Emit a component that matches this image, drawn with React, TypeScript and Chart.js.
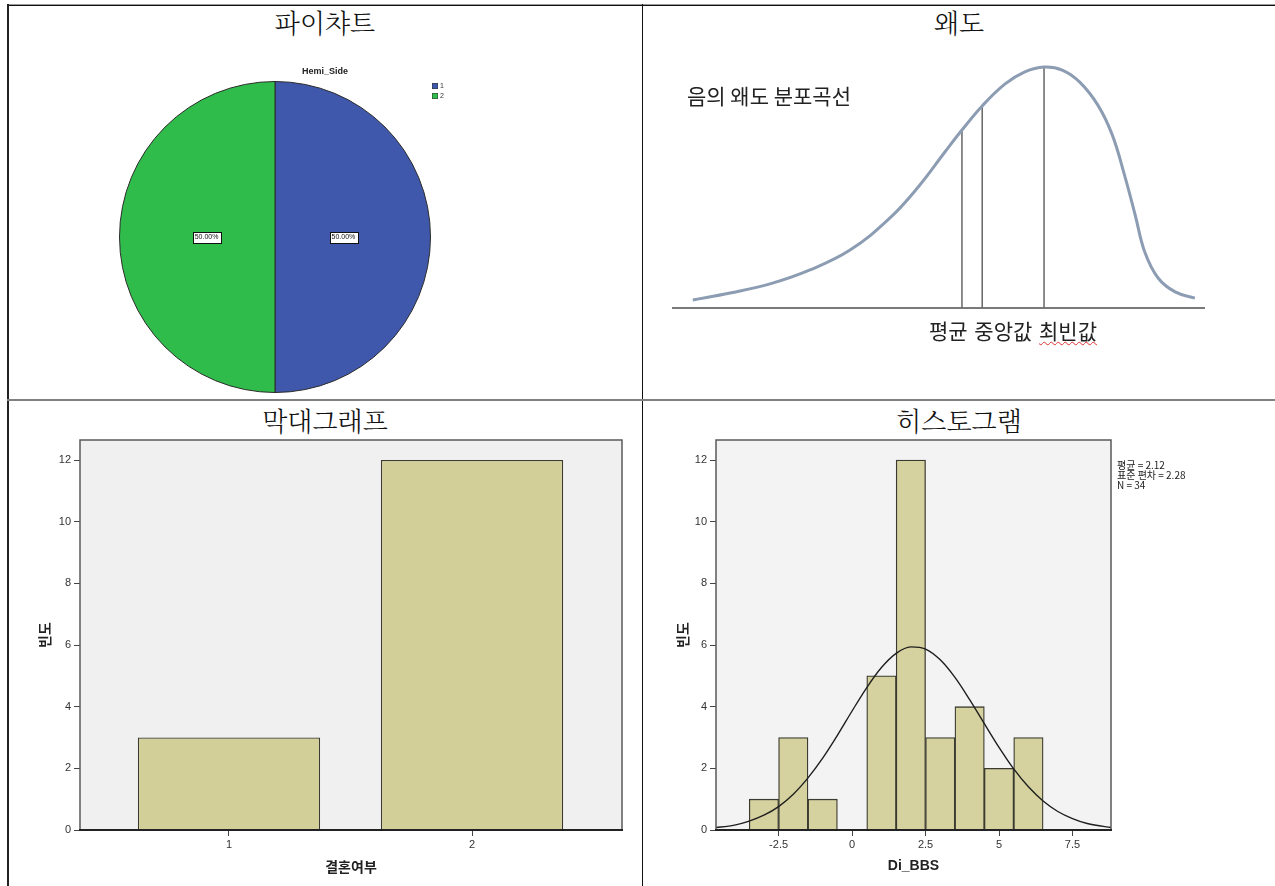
import React, { useEffect, useRef } from 'react';
import { Chart, registerables } from 'chart.js';

Chart.register(...registerables);

// ---------- pie chart ----------
const PIE_TITLE = 'Hemi_Side';
const PIE_LABELS = ['1', '2'];
const PIE_VALUES = [17, 17];
const PIE_COLORS = ['#3f58ab', '#30bc4b'];

// ---------- negatively skewed curve (abstract units 0..100) ----------
const SKEW_X = [3.9, 10.9, 18.4, 25.9, 33.4, 40.9, 46.5, 51.2, 54.4, 58.2, 62.5, 66.2, 69.8, 73.2, 76.5, 79.9, 82.6, 84.9, 86.9, 88.7, 91.2, 94.4, 98.1];
const SKEW_Y = [3.0, 5.6, 9.0, 14.2, 21.6, 33.6, 45.9, 58.2, 66.4, 75.4, 83.6, 88.1, 89.9, 88.8, 84.3, 75.7, 64.6, 49.6, 34.7, 20.9, 11.2, 6.0, 3.7];
// positions of mean, median and mode on the curve
const SKEW_MARKER_X = [54.4, 58.2, 69.8];
const SKEW_BASELINE = [0, 100];

// ---------- bar chart ----------
const BAR_CATEGORIES = [1, 2];
const BAR_COUNTS = [3, 12];
const BAR_Y_TICKS = [0, 2, 4, 6, 8, 10, 12];

// ---------- histogram ----------
const HIST_BIN_CENTERS = [-3, -2, -1, 0, 1, 2, 3, 4, 5, 6];
const HIST_COUNTS = [1, 3, 1, 0, 5, 12, 3, 4, 2, 3];
const HIST_X_TICKS = [-2.5, 0, 2.5, 5, 7.5];
const HIST_Y_TICKS = [0, 2, 4, 6, 8, 10, 12];
const HIST_MEAN = 2.12;
const HIST_SD = 2.28;
const HIST_N = 34;
// fitted normal curve (frequency scale)
const NORMAL_X = [-4.7, -4, -3.5, -3, -2.5, -2, -1.5, -1, -0.5, 0, 0.5, 1, 1.5, 2, 2.5, 3, 3.5, 4, 4.5, 5, 5.5, 6, 6.5, 7, 7.5, 8, 8.9];
const NORMAL_Y = [0.07, 0.16, 0.29, 0.48, 0.76, 1.16, 1.69, 2.33, 3.07, 3.86, 4.62, 5.27, 5.73, 5.94, 5.87, 5.52, 4.95, 4.23, 3.45, 2.68, 1.98, 1.4, 0.94, 0.6, 0.37, 0.21, 0.07];

const TICK_FONT = { family: '"Liberation Sans", Arial, sans-serif', size: 11 };
const AXIS_TITLE_FONT = { family: '"Noto Sans CJK KR", sans-serif', size: 14, weight: 'bold' as const };

// plot background + frame, bottom edge drawn heavier like an axis line
const plotFrame = (bg: string) => ({
  id: 'plotFrame',
  beforeDraw(chart: any) {
    const { ctx, chartArea: a } = chart;
    ctx.save();
    ctx.fillStyle = bg;
    ctx.fillRect(a.left, a.top, a.width, a.height);
    ctx.restore();
  },
  afterDraw(chart: any) {
    const { ctx, chartArea: a } = chart;
    ctx.save();
    ctx.strokeStyle = '#5a5a5a';
    ctx.lineWidth = 1.5;
    ctx.beginPath();
    ctx.moveTo(a.left, a.bottom);
    ctx.lineTo(a.left, a.top);
    ctx.lineTo(a.right, a.top);
    ctx.lineTo(a.right, a.bottom);
    ctx.stroke();
    ctx.strokeStyle = '#222';
    ctx.lineWidth = 2;
    ctx.beginPath();
    ctx.moveTo(a.left - 1, a.bottom);
    ctx.lineTo(a.right + 1, a.bottom);
    ctx.stroke();
    ctx.restore();
  },
});

const pieDecor = {
  id: 'pieDecor',
  afterDraw(chart: any) {
    const { ctx, chartArea: a } = chart;
    const ds = chart.data.datasets[0];
    const values: number[] = ds.data;
    const total = values.reduce((s, v) => s + v, 0);
    ctx.save();
    // title over the whole chart frame
    ctx.fillStyle = '#222';
    ctx.font = 'bold 9px "Liberation Sans", Arial, sans-serif';
    ctx.textAlign = 'center';
    ctx.textBaseline = 'middle';
    ctx.fillText(PIE_TITLE, chart.width / 2, a.top - 9);
    // percentage boxes
    const meta = chart.getDatasetMeta(0);
    ctx.font = '7px "Liberation Sans", Arial, sans-serif';
    meta.data.forEach((arc: any, i: number) => {
      const p = arc.getProps(['x', 'y', 'startAngle', 'endAngle', 'outerRadius'], true);
      const mid = (p.startAngle + p.endAngle) / 2;
      const cx = p.x + Math.cos(mid) * p.outerRadius * 0.44;
      const cy = p.y + Math.sin(mid) * p.outerRadius * 0.44;
      const text = ((values[i] / total) * 100).toFixed(2) + '%';
      const w = ctx.measureText(text).width + 4;
      const h = 11;
      ctx.fillStyle = '#fff';
      ctx.fillRect(Math.round(cx - w / 2) + 0.5, Math.round(cy - h / 2) + 0.5, Math.round(w), h);
      ctx.strokeStyle = '#111';
      ctx.lineWidth = 1;
      ctx.strokeRect(Math.round(cx - w / 2) + 0.5, Math.round(cy - h / 2) + 0.5, Math.round(w), h);
      ctx.fillStyle = '#111';
      ctx.fillText(text, cx, cy + 0.5);
    });
    // legend
    ctx.textAlign = 'left';
    chart.data.labels.forEach((lab: string, i: number) => {
      const x = a.right + 1;
      const y = a.top + 2 + i * 10;
      ctx.fillStyle = ds.backgroundColor[i];
      ctx.fillRect(x, y, 6, 6);
      ctx.strokeStyle = '#333';
      ctx.lineWidth = 0.5;
      ctx.strokeRect(x + 0.25, y + 0.25, 5.5, 5.5);
      ctx.fillStyle = '#333';
      ctx.font = '7px "Liberation Sans", Arial, sans-serif';
      ctx.fillText(lab, x + 8, y + 3.5);
    });
    ctx.restore();
  },
};

const histStats = {
  id: 'histStats',
  afterDraw(chart: any) {
    const { ctx, chartArea: a } = chart;
    const lines = [`평균 = ${HIST_MEAN.toFixed(2)}`, `표준 편차 = ${HIST_SD.toFixed(2)}`, `N = ${HIST_N}`];
    ctx.save();
    ctx.fillStyle = '#222';
    ctx.font = '10px "Noto Sans CJK KR", sans-serif';
    ctx.textAlign = 'left';
    ctx.textBaseline = 'middle';
    lines.forEach((t, i) => ctx.fillText(t, a.right + 6, a.top + 25 + i * 10));
    ctx.restore();
  },
};

function useChart(ref: React.RefObject<HTMLCanvasElement | null>, make: () => any) {
  useEffect(() => {
    const chart = new Chart(ref.current as HTMLCanvasElement, make());
    return () => chart.destroy();
  }, []);
}

const baseOptions = {
  animation: false as const,
  responsive: false,
  events: [] as any[],
};

function PieChart() {
  const ref = useRef<HTMLCanvasElement>(null);
  useChart(ref, () => ({
    type: 'pie',
    data: {
      labels: PIE_LABELS,
      datasets: [{ data: PIE_VALUES, backgroundColor: PIE_COLORS, borderColor: '#2b2b2b', borderWidth: 1 }],
    },
    options: {
      ...baseOptions,
      layout: { padding: { left: 111, right: 211, top: 76, bottom: 6 } },
      plugins: { legend: { display: false }, tooltip: { enabled: false } },
    },
    plugins: [pieDecor],
  }));
  return <canvas ref={ref} width={634} height={394} style={{ position: 'absolute', left: 8, top: 5 }} />;
}

function SkewChart() {
  const ref = useRef<HTMLCanvasElement>(null);
  useChart(ref, () => {
    const curve = SKEW_X.map((x, i) => ({ x, y: SKEW_Y[i] }));
    const markers = SKEW_MARKER_X.map((mx) => {
      const top = SKEW_Y[SKEW_X.indexOf(mx)];
      return {
        data: [{ x: mx, y: 0 }, { x: mx, y: top }],
        borderColor: '#666',
        borderWidth: 1.5,
        pointRadius: 0,
        clip: false,
      };
    });
    return {
      type: 'line',
      data: {
        datasets: [
          {
            data: curve,
            borderColor: '#8c9cb2',
            borderWidth: 3,
            pointRadius: 0,
            tension: 0.4,
            clip: false,
          },
          ...markers,
          {
            data: SKEW_BASELINE.map((x) => ({ x, y: 0 })),
            borderColor: '#7a7a7a',
            borderWidth: 2,
            pointRadius: 0,
            clip: false,
          },
        ],
      },
      options: {
        ...baseOptions,
        layout: { padding: { left: 29, right: 70, top: 35, bottom: 91 } },
        scales: {
          x: { type: 'linear', min: 0, max: 100, display: false },
          y: { type: 'linear', min: 0, max: 100, display: false },
        },
        plugins: { legend: { display: false }, tooltip: { enabled: false } },
      },
    };
  });
  return <canvas ref={ref} width={632} height={394} style={{ position: 'absolute', left: 643, top: 5 }} />;
}

const yAxis = (ticks: number[], width: number, titlePad: number) => ({
  type: 'linear',
  min: 0,
  max: 12.65,
  afterBuildTicks: (s: any) => {
    s.ticks = ticks.map((v) => ({ value: v }));
  },
  afterFit: (s: any) => {
    s.width = width;
  },
  grid: { display: true, drawOnChartArea: false, drawTicks: true, tickLength: 6, color: '#444', tickWidth: 1 },
  border: { display: false },
  ticks: { font: TICK_FONT, color: '#333', padding: 3, callback: (v: any) => String(v) },
  title: { display: true, text: '빈도', font: AXIS_TITLE_FONT, color: '#222', padding: { top: titlePad, bottom: 0 } },
});

function BarChart() {
  const ref = useRef<HTMLCanvasElement>(null);
  useChart(ref, () => ({
    type: 'bar',
    data: {
      datasets: [
        {
          data: BAR_CATEGORIES.map((x, i) => ({ x, y: BAR_COUNTS[i] })),
          backgroundColor: '#d3cf99',
          borderColor: '#3a3a30',
          borderWidth: 1.3,
          categoryPercentage: 0.75,
          barPercentage: 1,
        },
      ],
    },
    options: {
      ...baseOptions,
      layout: { padding: { left: 0, right: 20, top: 10, bottom: 0 } },
      scales: {
        x: {
          type: 'linear',
          min: 0.387,
          max: 2.617,
          offset: false,
          afterBuildTicks: (s: any) => {
            s.ticks = BAR_CATEGORIES.map((v) => ({ value: v }));
          },
          afterFit: (s: any) => {
            s.height = 56;
          },
          grid: { display: true, drawOnChartArea: false, drawTicks: true, tickLength: 6, color: '#444', offset: false },
          border: { display: false },
          ticks: { font: TICK_FONT, color: '#333', padding: 2, callback: (v: any) => String(v) },
          title: { display: true, text: '결혼여부', font: AXIS_TITLE_FONT, color: '#222', padding: { top: 0, bottom: 11 } },
        },
        y: yAxis(BAR_Y_TICKS, 72, 28),
      },
      plugins: { legend: { display: false }, tooltip: { enabled: false } },
    },
    plugins: [plotFrame('#f0f0f0')],
  }));
  return <canvas ref={ref} width={634} height={456} style={{ position: 'absolute', left: 8, top: 430 }} />;
}

function Histogram() {
  const ref = useRef<HTMLCanvasElement>(null);
  useChart(ref, () => ({
    type: 'bar',
    data: {
      datasets: [
        {
          type: 'line',
          data: NORMAL_X.map((x, i) => ({ x, y: NORMAL_Y[i] })),
          borderColor: '#1e1e1e',
          borderWidth: 1.4,
          pointRadius: 0,
          cubicInterpolationMode: 'monotone',
          order: 0,
        },
        {
          type: 'bar',
          data: HIST_BIN_CENTERS.map((x, i) => ({ x, y: HIST_COUNTS[i] })),
          backgroundColor: '#d6d29f',
          borderColor: '#3a3a30',
          borderWidth: 1.3,
          categoryPercentage: 1,
          barPercentage: 1,
          order: 1,
        },
      ],
    },
    options: {
      ...baseOptions,
      layout: { padding: { left: 0, right: 164, top: 10, bottom: 0 } },
      scales: {
        x: {
          type: 'linear',
          min: -4.63,
          max: 8.81,
          offset: false,
          afterBuildTicks: (s: any) => {
            s.ticks = HIST_X_TICKS.map((v) => ({ value: v }));
          },
          afterFit: (s: any) => {
            s.height = 56;
          },
          grid: { display: true, drawOnChartArea: false, drawTicks: true, tickLength: 6, color: '#444', offset: false },
          border: { display: false },
          ticks: { font: TICK_FONT, color: '#333', padding: 2, callback: (v: any) => String(v) },
          title: {
            display: true,
            text: 'Di_BBS',
            font: { family: '"Liberation Sans", Arial, sans-serif', size: 14, weight: 'bold' },
            color: '#222',
            padding: { top: 0, bottom: 11 },
          },
        },
        y: yAxis(HIST_Y_TICKS, 73, 31),
      },
      plugins: { legend: { display: false }, tooltip: { enabled: false } },
    },
    plugins: [plotFrame('#f3f3f3'), histStats],
  }));
  return <canvas ref={ref} width={632} height={456} style={{ position: 'absolute', left: 643, top: 430 }} />;
}

const cellTitle = (left: number, top: number, width: number): React.CSSProperties => ({
  position: 'absolute',
  left,
  top,
  width,
  textAlign: 'center',
  fontFamily: '"Noto Serif CJK KR", "Noto Sans CJK KR", serif',
  fontWeight: 300,
  fontSize: 26,
  lineHeight: '30px',
  color: '#111',
  whiteSpace: 'nowrap',
});

const line = (left: number, top: number, width: number, height: number, bg: string): React.CSSProperties => ({
  position: 'absolute',
  left,
  top,
  width,
  height,
  background: bg,
});

export default function App() {
  useEffect(() => {
    document.body.style.overflow = 'hidden';
  }, []);
  const sans = '"Noto Sans CJK KR", sans-serif';
  return (
    <div style={{ position: 'absolute', left: 0, top: 0, width: 1275, height: 886, background: '#fff', overflow: 'hidden' }}>
      {/* table rules */}
      <div style={line(7, 4, 1268, 1, '#9a9a9a')} />
      <div style={line(7, 5, 1268, 1, '#111')} />
      <div style={line(7, 4, 2, 882, '#222')} />
      <div style={line(642, 4, 1, 882, '#111')} />
      <div style={line(7, 399, 1268, 2, '#808080')} />

      <div style={cellTitle(8, 7, 634)}>파이챠트</div>
      <div style={cellTitle(643, 7, 632)}>왜도</div>
      <div style={cellTitle(8, 405, 634)}>막대그래프</div>
      <div style={cellTitle(643, 405, 632)}>히스토그램</div>

      <PieChart />
      <SkewChart />
      <BarChart />
      <Histogram />

      <div style={{ position: 'absolute', left: 687, top: 83, fontFamily: sans, fontSize: 21, lineHeight: '24px', color: '#222', whiteSpace: 'nowrap' }}>
        음의 왜도 분포곡선
      </div>
      <div style={{ position: 'absolute', left: 929, top: 318, fontFamily: sans, fontSize: 21, lineHeight: '24px', wordSpacing: 2, color: '#222', whiteSpace: 'nowrap' }}>
        평균 중앙값{' '}
        <span style={{ textDecorationLine: 'underline', textDecorationStyle: 'wavy', textDecorationColor: '#e03030', textDecorationThickness: '1px', textUnderlineOffset: '2px' }}>
          최빈값
        </span>
      </div>
    </div>
  );
}
